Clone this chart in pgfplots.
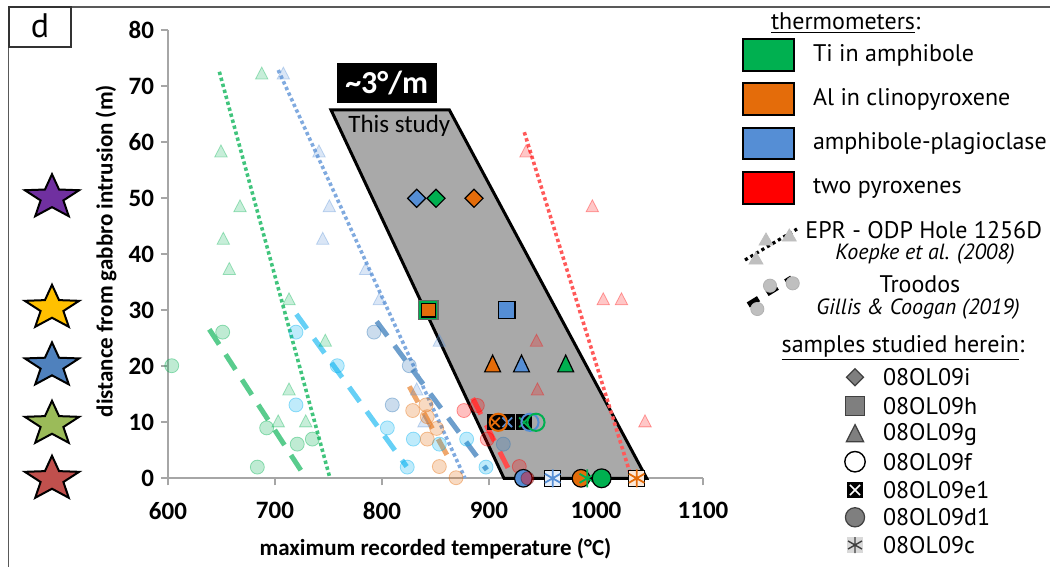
\documentclass[border=0pt]{standalone}
\usepackage{pgfplots}
\pgfplotsset{compat=1.18}
\usepackage{fontspec}
\setmainfont{Carlito}
\newfontfamily\lgf{PT Sans}
\definecolor{cG}{HTML}{00B050}
\definecolor{cO}{HTML}{E46C0A}
\definecolor{cB}{HTML}{558ED5}
\definecolor{cR}{HTML}{FF0000}
\definecolor{cC}{HTML}{00B0F0}
\definecolor{cS}{HTML}{2E75B6}
\definecolor{axg}{HTML}{A6A6A6}
\definecolor{polyg}{HTML}{A9A9A9}
\definecolor{legg}{HTML}{7F7F7F}
\definecolor{legd}{HTML}{404040}
\definecolor{sPur}{HTML}{7030A0}
\definecolor{sYel}{HTML}{FFC000}
\definecolor{sBlu}{HTML}{4F81BD}
\definecolor{sGrn}{HTML}{9BBB59}
\definecolor{sRed}{HTML}{C0504D}
\pgfdeclareplotmark{fstar}{%
  \pgfpathmoveto{\pgfpointpolar{90}{\pgfplotmarksize}}%
  \pgfpathlineto{\pgfpointpolar{126}{0.42\pgfplotmarksize}}%
  \pgfpathlineto{\pgfpointpolar{162}{\pgfplotmarksize}}%
  \pgfpathlineto{\pgfpointpolar{198}{0.42\pgfplotmarksize}}%
  \pgfpathlineto{\pgfpointpolar{234}{\pgfplotmarksize}}%
  \pgfpathlineto{\pgfpointpolar{270}{0.42\pgfplotmarksize}}%
  \pgfpathlineto{\pgfpointpolar{306}{\pgfplotmarksize}}%
  \pgfpathlineto{\pgfpointpolar{342}{0.42\pgfplotmarksize}}%
  \pgfpathlineto{\pgfpointpolar{18}{\pgfplotmarksize}}%
  \pgfpathlineto{\pgfpointpolar{54}{0.42\pgfplotmarksize}}%
  \pgfpathclose\pgfusepathqfillstroke}
\pgfplotsset{
  fadeT/.style={only marks, mark=triangle*, mark size=4pt, mark options={fill=#1, fill opacity=0.22, draw=#1, draw opacity=0.35, xscale=0.9, line width=0.4pt}},
  fadeC/.style={only marks, mark=*, mark size=3.5pt, mark options={fill=#1, fill opacity=0.25, draw=#1, draw opacity=0.4, line width=0.4pt}},
  dotl/.style={#1, line width=1.8pt, dash pattern=on 1.7pt off 1.4pt},
  dashl/.style={#1, line width=2.5pt, dash pattern=on 9pt off 6pt},
  dia/.style={only marks, mark=square*, mark size=3.2pt, mark options={rotate=45, fill=#1, draw=black, line width=0.6pt}},
  sq/.style={only marks, mark=square*, mark size=4.2pt, mark options={fill=#1, draw=black, line width=0.6pt}},
  tri/.style={only marks, mark=triangle*, mark size=5.6pt, mark options={fill=#1, draw=black, line width=0.6pt, xscale=0.82}},
  circ/.style={only marks, mark=*, mark size=4.4pt, mark options={fill=#1, draw=black, line width=0.6pt}},
  ocirc/.style={only marks, mark=o, mark size=4.3pt, mark options={draw=#1, line width=1pt}},
  eone/.style={only marks, mark=square*, mark size=3.7pt, mark options={fill=black, draw=black}},
  exx/.style={only marks, mark=x, mark size=3.4pt, mark options={draw=#1, line width=0.9pt}},
  cst/.style={only marks, mark=asterisk, mark size=4.5pt, mark options={draw=#1, line width=0.9pt}},
  star/.style={only marks, mark=fstar, mark size=11.6pt, mark options={fill=#1, draw=black, line width=1pt, xscale=1.23}},
}
\begin{document}
\begin{tikzpicture}[x=0.5pt,y=0.5pt]
\useasboundingbox (0,0) rectangle (1050,567);
% ---------- overlay axis in image pixel coordinates ----------
\begin{axis}[at={(0pt,0pt)},anchor=south west,scale only axis,width=525pt,height=283.5pt,
  xmin=0,xmax=1050,ymin=0,ymax=567,y dir=reverse,hide axis,clip=false]
\draw[black!65, line width=0.8pt] (axis cs:8.5,567) -- (axis cs:8.5,7) -- (axis cs:1050,7);
\draw[black!80, line width=1pt] (axis cs:8.5,7) rectangle (axis cs:71,47);
\node[font=\lgf\fontsize{17}{20}\selectfont] at (axis cs:40,26) {d};
% stars
\addplot[star=sPur] coordinates {(52,197.4)};
\addplot[star=sYel] coordinates {(52,308)};
\addplot[star=sBlu] coordinates {(52,365.6)};
\addplot[star=sGrn] coordinates {(52,424)};
\addplot[star=sRed] coordinates {(52,479)};
% thermometers legend
\node[anchor=west, font=\lgf\fontsize{12}{14}\selectfont] at (axis cs:764,23) {\underline{thermometers}:};
\draw[black, line width=1pt, fill=cG] (axis cs:743.3,39.3) rectangle (axis cs:794,71);
\draw[black, line width=1pt, fill=cO] (axis cs:743.3,83.3) rectangle (axis cs:794,115);
\draw[black, line width=1pt, fill=cB] (axis cs:743.3,128.3) rectangle (axis cs:794,159.3);
\draw[black, line width=1pt, fill=cR] (axis cs:743.3,171.7) rectangle (axis cs:794,204);
\node[anchor=west, font=\lgf\fontsize{12}{14}\selectfont] at (axis cs:806,55) {Ti in amphibole};
\node[anchor=west, font=\lgf\fontsize{12}{14}\selectfont] at (axis cs:806,99) {Al in clinopyroxene};
\node[anchor=west, font=\lgf\fontsize{12}{14}\selectfont] at (axis cs:806,144) {amphibole-plagioclase};
\node[anchor=west, font=\lgf\fontsize{12}{14}\selectfont] at (axis cs:806,188) {two pyroxenes};
% EPR legend
\addplot[only marks, mark=triangle*, mark size=4pt, mark options={fill=black!25, draw=black!25}] coordinates {(766,241) (789.3,237) (756,260)};
\addplot[black, line width=1.6pt, dash pattern=on 1.6pt off 1.6pt] coordinates {(745,260) (797,229)};
\node[anchor=west, inner sep=0.5pt, font=\lgf\fontsize{12}{14}\selectfont] at (axis cs:804,230) {EPR - ODP Hole 1256D};
\node[inner sep=0.5pt, font=\lgf\itshape\fontsize{11}{13}\selectfont] at (axis cs:925,254) {Koepke et al. (2008)};
% Troodos legend
\addplot[only marks, mark=*, mark size=3.3pt, mark options={fill=black!25, draw=black!30}] coordinates {(770,285.7) (792.7,283.3) (757.3,309)};
\addplot[black, line width=3pt, dash pattern=on 6pt off 5pt] coordinates {(748.3,305) (791.7,278.3)};
\node[inner sep=0.5pt, font=\lgf\fontsize{12}{14}\selectfont] at (axis cs:920,284) {Troodos};
\node[inner sep=0.5pt, font=\lgf\itshape\fontsize{11}{13}\selectfont] at (axis cs:918,309) {Gillis \& Coogan (2019)};
% samples legend
\node[font=\lgf\fontsize{12}{14}\selectfont] at (axis cs:903,348) {\underline{samples studied herein}:};
\addplot[only marks, mark=square*, mark size=3pt, mark options={rotate=45, fill=legg, draw=legd, line width=0.6pt}] coordinates {(855,377.3)};
\addplot[only marks, mark=square*, mark size=4.6pt, mark options={fill=legg, draw=legd, line width=0.6pt}] coordinates {(855,406)};
\addplot[only marks, mark=triangle*, mark size=5.7pt, mark options={fill=legg, draw=legd, line width=0.6pt, xscale=0.87}] coordinates {(855,436)};
\addplot[only marks, mark=*, mark size=5.1pt, mark options={fill=white, draw=black, line width=0.7pt}] coordinates {(855,461.7)};
\addplot[only marks, mark=square*, mark size=3.9pt, mark options={fill=black, draw=black}] coordinates {(855,490)};
\addplot[only marks, mark=x, mark size=3.6pt, mark options={draw=white, line width=0.8pt}] coordinates {(855,490)};
\addplot[only marks, mark=*, mark size=4.8pt, mark options={fill=legg, draw=legd, line width=0.6pt}] coordinates {(855,517.3)};
\addplot[only marks, mark=square*, mark size=3.9pt, mark options={fill=black!15, draw=black!15}] coordinates {(855,545)};
\addplot[only marks, mark=asterisk, mark size=4pt, mark options={draw=legd, line width=0.7pt}] coordinates {(855,545)};
\node[anchor=west, font=\lgf\fontsize{12}{14}\selectfont] at (axis cs:876,377.3) {08OL09i};
\node[anchor=west, font=\lgf\fontsize{12}{14}\selectfont] at (axis cs:876,406) {08OL09h};
\node[anchor=west, font=\lgf\fontsize{12}{14}\selectfont] at (axis cs:876,434) {08OL09g};
\node[anchor=west, font=\lgf\fontsize{12}{14}\selectfont] at (axis cs:876,461.7) {08OL09f};
\node[anchor=west, font=\lgf\fontsize{12}{14}\selectfont] at (axis cs:876,490) {08OL09e1};
\node[anchor=west, font=\lgf\fontsize{12}{14}\selectfont] at (axis cs:876,517.3) {08OL09d1};
\node[anchor=west, font=\lgf\fontsize{12}{14}\selectfont] at (axis cs:876,545) {08OL09c};
\end{axis}
% ---------- main data axis ----------
\begin{axis}[at={(84pt,44.35pt)},anchor=south west,scale only axis,width=267.5pt,height=224pt,
  xmin=600,xmax=1100,ymin=0,ymax=80,
  axis lines*=left, axis line style={axg, line width=0.8pt},
  tick style={axg, line width=0.8pt}, tick align=outside, major tick length=3.5pt,
  xtick={600,700,...,1100}, ytick={0,10,...,80},
  /pgf/number format/assume math mode=true, /pgf/number format/1000 sep={},
  ticklabel style={font=\fontsize{12.5}{14}\selectfont\bfseries},
  xticklabel style={yshift=-5pt},
  label style={font=\fontsize{11.5}{13}\selectfont\bfseries},
  xlabel={maximum recorded temperature (°C)},
  ylabel={distance from gabbro intrusion (m)},
  xlabel style={at={(axis description cs:0.5,-0.158)},anchor=center},
  ylabel style={at={(axis description cs:-0.116,0.507)},anchor=center},
  clip=false]
% shaded region
\addplot[fill=polyg, draw=black, line width=1.5pt, line join=miter] coordinates {(752.3,65.8) (862.9,65.8) (1047.4,0) (914,0)} -- cycle;
% faded EPR triangles
\addplot[fadeT=cG] coordinates {(687.6,72.0) (649.5,58.1) (667.3,48.3) (651.7,42.5) (657.3,37.1) (713.1,31.7) (747,24.3) (713.1,15.6) (703,9.9) (728.7,9.9)};
\addplot[fadeT=cB] coordinates {(707.8,72.0) (741.1,58.1) (750.8,48.3) (744.6,42.5) (784.7,37.1) (797.5,31.7) (853.6,24.3) (832.4,15.6) (839.3,9.9)};
\addplot[fadeT=cR] coordinates {(934.6,58.1) (996.6,48.3) (1006.8,31.7) (1023.8,31.7) (944.4,24.3) (945.3,15.6) (1045.8,9.9)};
% faded Troodos circles
\addplot[fadeC=cG] coordinates {(603.5,20.1) (651.1,26.1) (692.2,9.0) (720.8,6.1) (734.9,7.0) (683.5,2.0)};
\addplot[fadeC=cC] coordinates {(719.6,26.1) (758.2,20.1) (719.6,13.1) (805,9.0) (829.3,7.0) (823.6,2.0) (853.6,6.1) (879.1,7.0) (897.2,2.0)};
\addplot[fadeC=cS] coordinates {(792.5,26.1) (825.5,20.1) (809.6,13.1) (913.4,6.1)};
\addplot[fadeC=cO] coordinates {(828.7,12.1) (841.1,13.1) (842.3,11.0) (842.3,7.0) (851.1,8.9) (853.6,2.1) (869.2,0.1)};
\addplot[fadeC=cR] coordinates {(876.6,12.1) (889.1,13.0) (898.4,7.0) (928.3,2.1)};
% EPR dotted trends
\addplot[dotl={cG!75!white}] coordinates {(648,72.6) (751.4,0)};
\addplot[dotl={cB!75!white}] coordinates {(703,72.9) (877.6,0)};
\addplot[dotl={cR!65!white}] coordinates {(933,61.8) (1033.3,0)};
% Troodos dashed trends
\addplot[dashl={cG!65!white}] coordinates {(638.6,26.6) (727,0.6)};
\addplot[dashl={cC!60!white}] coordinates {(720,29.3) (823,2.1)};
\addplot[dashl={cS!70!white}] coordinates {(795,28) (898,1.5)};
\addplot[dashl={cO!60!white}] coordinates {(825.5,16.4) (864,3)};
\addplot[dashl={cR!70!white}] coordinates {(884.8,14.3) (921,0.6)};
% this study: 08OL09i (diamonds)
\addplot[dia=cB] coordinates {(832.4,50)};
\addplot[dia=cG] coordinates {(850.5,50)};
\addplot[dia=cO] coordinates {(886,50)};
% 08OL09h (squares)
\addplot[only marks, mark=square*, mark size=4.8pt, mark options={fill=cG, draw=black!60, line width=0.6pt}] coordinates {(843.3,30)};
\addplot[only marks, mark=square*, mark size=3.4pt, mark options={fill=cO, draw=black, line width=0.6pt}] coordinates {(843.3,30)};
\addplot[sq=cB] coordinates {(916.5,30)};
% 08OL09g (triangles)
\addplot[tri=cO] coordinates {(903.4,20)};
\addplot[tri=cB] coordinates {(930.4,20)};
\addplot[tri=cG] coordinates {(971.7,20)};
% 08OL09e1 and 08OL09f
\addplot[eone] coordinates {(905.6,10) (917.1,10) (932.7,10)};
\addplot[exx=cO] coordinates {(905.6,10)};
\addplot[exx=cB] coordinates {(917.1,10)};
\addplot[exx=cG] coordinates {(932.7,10)};
\addplot[ocirc=cO] coordinates {(908.7,10)};
\addplot[ocirc=cB] coordinates {(938.3,10)};
\addplot[ocirc=cG] coordinates {(943.9,10)};
% 08OL09d1 and 08OL09c at 0 m
\addplot[circ=cB] coordinates {(932.1,0)};
\addplot[only marks, mark=*, mark size=3.3pt, mark options={fill=cR, fill opacity=0.4, draw=black, draw opacity=0.3}] coordinates {(936,0)};
\addplot[only marks, mark=square*, mark size=4pt, mark options={fill=cB!15, draw=none}] coordinates {(959.5,0)};
\addplot[cst=cB] coordinates {(959.5,0)};
\addplot[circ=cO] coordinates {(986,0)};
\addplot[cst=cG] coordinates {(991.9,0)};
\addplot[only marks, mark=*, mark size=4.7pt, mark options={fill=cG, draw=black, line width=0.6pt}] coordinates {(1005.3,0)};
\addplot[only marks, mark=square*, mark size=4pt, mark options={fill=cO!15, draw=none}] coordinates {(1038,0)};
\addplot[cst=cO] coordinates {(1038,0)};
% annotations
\node[anchor=west, font=\fontsize{12.5}{14}\selectfont] at (axis cs:762,62.9) {This study};
\node[fill=black, text=white, font=\fontsize{16}{18}\selectfont\bfseries, minimum width=50pt, minimum height=20pt, inner sep=0pt] at (axis cs:804.4,70.6) {\textasciitilde3°/m};
\end{axis}
\end{tikzpicture}
\end{document}
